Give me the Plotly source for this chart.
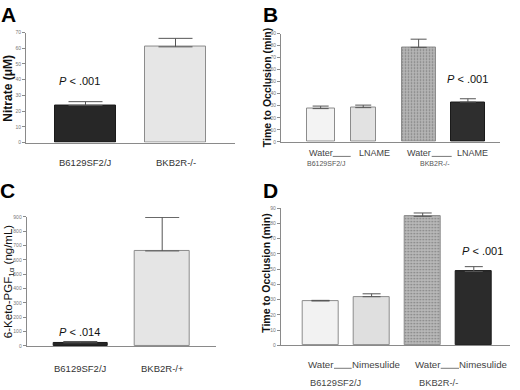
import plotly.graph_objects as go

W, H = 520, 390

# ---------------- data ----------------
a_groups = ["B6129SF2/J", "BKB2R-/-"]
a_values = [23.6, 60.9]
a_err = [2.4, 5.4]
a_ticks = [0, 10, 20, 30, 40, 50, 60, 70]

b_treat = ["Water", "LNAME", "Water", "LNAME"]
b_groups = ["B6129SF2/J", "BKB2R-/-"]
b_values = [27.6, 28.4, 78.5, 33.0]
b_err = [2.1, 2.1, 6.8, 2.8]
b_ticks = [0, 10, 20, 30, 40, 50, 60, 70, 80, 90]

c_groups = ["B6129SF2/J", "BKB2R-/+"]
c_values = [22, 663]
c_err = [9, 234]
c_ticks = [0, 100, 200, 300, 400, 500, 600, 700, 800, 900]

d_treat = ["Water", "Nimesulide", "Water", "Nimesulide"]
d_groups = ["B6129SF2/J", "BKB2R-/-"]
d_values = [29.1, 31.9, 84.6, 48.4]
d_err = [0.4, 1.9, 2.2, 3.2]
d_ticks = [0, 10, 20, 30, 40, 50, 60, 70, 80, 90]

FONT = "Arial, 'Liberation Sans', sans-serif"
AX = "#8a8a8a"


def fx(px):
    return px / W


def fy(py):
    return 1 - py / H


def xrange_of(left, right, first_center, spacing):
    x0 = -(first_center - left) / spacing
    return [x0, x0 + (right - left) / spacing]


def xdat(px, first_center, spacing):
    return (px - first_center) / spacing


fig = go.Figure()

# panel geometry (pixels): left, right, zero_y, top_y, first bar centre, spacing
panels = {
    "A": dict(ax="", l=26, r=235, y0=141.7, yt=30, c0=85.5, sp=90, ymax=70),
    "B": dict(ax="2", l=281, r=500, y0=141, yt=31, c0=320.7, sp=49.1, ymax=90),
    "C": dict(ax="3", l=26.7, r=216, y0=348.3, yt=217.3, c0=80.3, sp=81.9, ymax=900),
    "D": dict(ax="4", l=280.7, r=510, y0=347.7, yt=208.3, c0=320.5, sp=51.1, ymax=90),
}
ticks = {"A": a_ticks, "B": b_ticks, "C": c_ticks, "D": d_ticks}

bar_specs = {
    "A": dict(y=a_values, err=a_err, colors=["#272727", "#e6e6e6"],
              lines=["#1a1a1a", "#8c8c8c"], width=0.667, cap=17, offset=None),
    "B": dict(y=b_values, err=b_err, colors=["#f3f3f3", "#e2e2e2", "#b5b5b5", "#2e2e2e"],
              lines=["#8c8c8c", "#8c8c8c", "#8c8c8c", "#1a1a1a"],
              width=[0.57, 0.51, 0.69, 0.69], cap=8,
              offset=[-0.286, -0.389, -0.351, -0.347]),
    "C": dict(y=c_values, err=c_err, colors=["#262626", "#e5e5e5"],
              lines=["#1a1a1a", "#8c8c8c"], width=[0.66, 0.68], cap=17, offset=None),
    "D": dict(y=d_values, err=d_err, colors=["#f2f2f2", "#dfdfdf", "#b8b8b8", "#2b2b2b"],
              lines=["#8c8c8c", "#8c8c8c", "#8c8c8c", "#1a1a1a"], width=0.70, cap=9,
              offset=None),
}

layout_axes = {}
for key, p in panels.items():
    s = bar_specs[key]
    n = len(s["y"])
    xs = list(range(n))
    pat_shape = ["", "", ".", ""] if n == 4 else ["", ""]
    bar = go.Bar(
        x=xs, y=s["y"], width=s["width"],
        marker=dict(color=s["colors"], line=dict(color=s["lines"], width=1),
                    pattern=dict(shape=pat_shape, fgcolor="#8f8f8f", size=3, solidity=0.25)),
        error_y=dict(type="data", array=s["err"], symmetric=False,
                     arrayminus=[0] * n, color="#555555", thickness=1, width=s["cap"]),
        xaxis="x" + p["ax"], yaxis="y" + p["ax"], showlegend=False, hoverinfo="skip",
    )
    if s["offset"] is not None:
        bar.offset = s["offset"]
    fig.add_trace(bar)
    xname = "xaxis" + p["ax"]
    yname = "yaxis" + p["ax"]
    layout_axes[xname] = dict(
        domain=[fx(p["l"]), fx(p["r"])],
        range=xrange_of(p["l"], p["r"], p["c0"], p["sp"]),
        anchor="y" + p["ax"], showticklabels=False, ticks="", showgrid=False,
        zeroline=False, showline=True, linecolor=AX, linewidth=1, fixedrange=True,
    )
    layout_axes[yname] = dict(
        domain=[fy(p["y0"]), fy(p["yt"])], range=[0, p["ymax"]],
        anchor="x" + p["ax"], tickvals=ticks[key], ticks="outside", ticklen=3,
        tickcolor=AX, tickfont=dict(size=5, color="#777777", family=FONT),
        showgrid=False, zeroline=False, showline=True, linecolor=AX, linewidth=1,
        fixedrange=True,
    )

fig.update_layout(**layout_axes)

ann = []
shapes = []


def text(x, y, t, size, xref="paper", color="#333333", bold=False, angle=0):
    ann.append(dict(x=x, y=y, xref=xref, yref="paper", text=t, showarrow=False,
                    textangle=angle, xanchor="center", yanchor="middle", borderpad=0,
                    font=dict(size=size, color=color, family=FONT,
                              weight="bold" if bold else "normal")))


# panel letters
for letter, (px, py) in {"A": (8, 12), "B": (270, 12), "C": (7.5, 190), "D": (270, 190)}.items():
    text(fx(px), fy(py), letter, 21, color="#000000", bold=True)

# y axis titles
text(fx(8), fy(87), "Nitrate (μM)", 12, color="#111111", bold=True, angle=-90)
text(fx(266.5), fy(86), "Time to Occlusion (min)", 10.5, color="#111111", bold=True, angle=-90)
text(fx(8.5), fy(283), "6-Keto-PGF<sub>1α</sub> (ng/mL)", 11.5, color="#111111", angle=-90)
text(fx(266), fy(275), "Time to Occlusion (min)", 10.5, color="#111111", bold=True, angle=-90)

# P values
text(fx(79.5), fy(79), "<i>P</i> < .001", 11, color="#111111")
text(fx(467.7), fy(76.7), "<i>P</i> < .001", 11, color="#111111")
text(fx(79.3), fy(334.3), "<i>P</i> < .014", 11, color="#111111")
text(fx(482), fy(252.3), "<i>P</i> < .001", 11, color="#111111")

# panel A / C category labels
for i, g in enumerate(a_groups):
    text(i, fy(162), g, 9.5, xref="x")
for i, g in enumerate(c_groups):
    text(i, fy(371.7), g, 9.5, xref="x3")

# panel B labels
pB = panels["B"]
for i, t in enumerate(b_treat):
    shift = 0.09 if t == "LNAME" else 0.0
    text(i + shift, fy(152.7), t, 9, xref="x2", color="#444444")
text(xdat(326.8, pB["c0"], pB["sp"]), fy(163.5), b_groups[0], 7, xref="x2", color="#555555")
text(xdat(435, pB["c0"], pB["sp"]), fy(163.5), b_groups[1], 7, xref="x2", color="#555555")
for a, b in [(332.7, 350.7), (431.7, 451.7)]:
    shapes.append(dict(type="line", xref="x2", yref="paper",
                       x0=xdat(a, pB["c0"], pB["sp"]), x1=xdat(b, pB["c0"], pB["sp"]),
                       y0=fy(155.8), y1=fy(155.8), line=dict(color="#777777", width=1)))

# panel D labels
pD = panels["D"]
for px, t in zip([321, 375.8, 428, 483], d_treat):
    text(xdat(px, pD["c0"], pD["sp"]), fy(366.7), t, 9.7, xref="x4", color="#444444")
text(xdat(335.5, pD["c0"], pD["sp"]), fy(385.5), d_groups[0], 9.3, xref="x4", color="#444444")
text(xdat(438, pD["c0"], pD["sp"]), fy(385.5), d_groups[1], 9.3, xref="x4", color="#444444")
for a, b in [(334, 351.7), (440.7, 459)]:
    shapes.append(dict(type="line", xref="x4", yref="paper",
                       x0=xdat(a, pD["c0"], pD["sp"]), x1=xdat(b, pD["c0"], pD["sp"]),
                       y0=fy(371), y1=fy(371), line=dict(color="#777777", width=1)))

fig.update_layout(
    width=W, height=H, margin=dict(l=0, r=0, t=0, b=0),
    paper_bgcolor="white", plot_bgcolor="white",
    annotations=ann, shapes=shapes, bargap=0,
    font=dict(family=FONT),
)

fig.write_html(
    "out.html",
    config={"displayModeBar": False},
    post_script="document.body.style.margin='0';document.body.style.overflow='hidden';",
)
